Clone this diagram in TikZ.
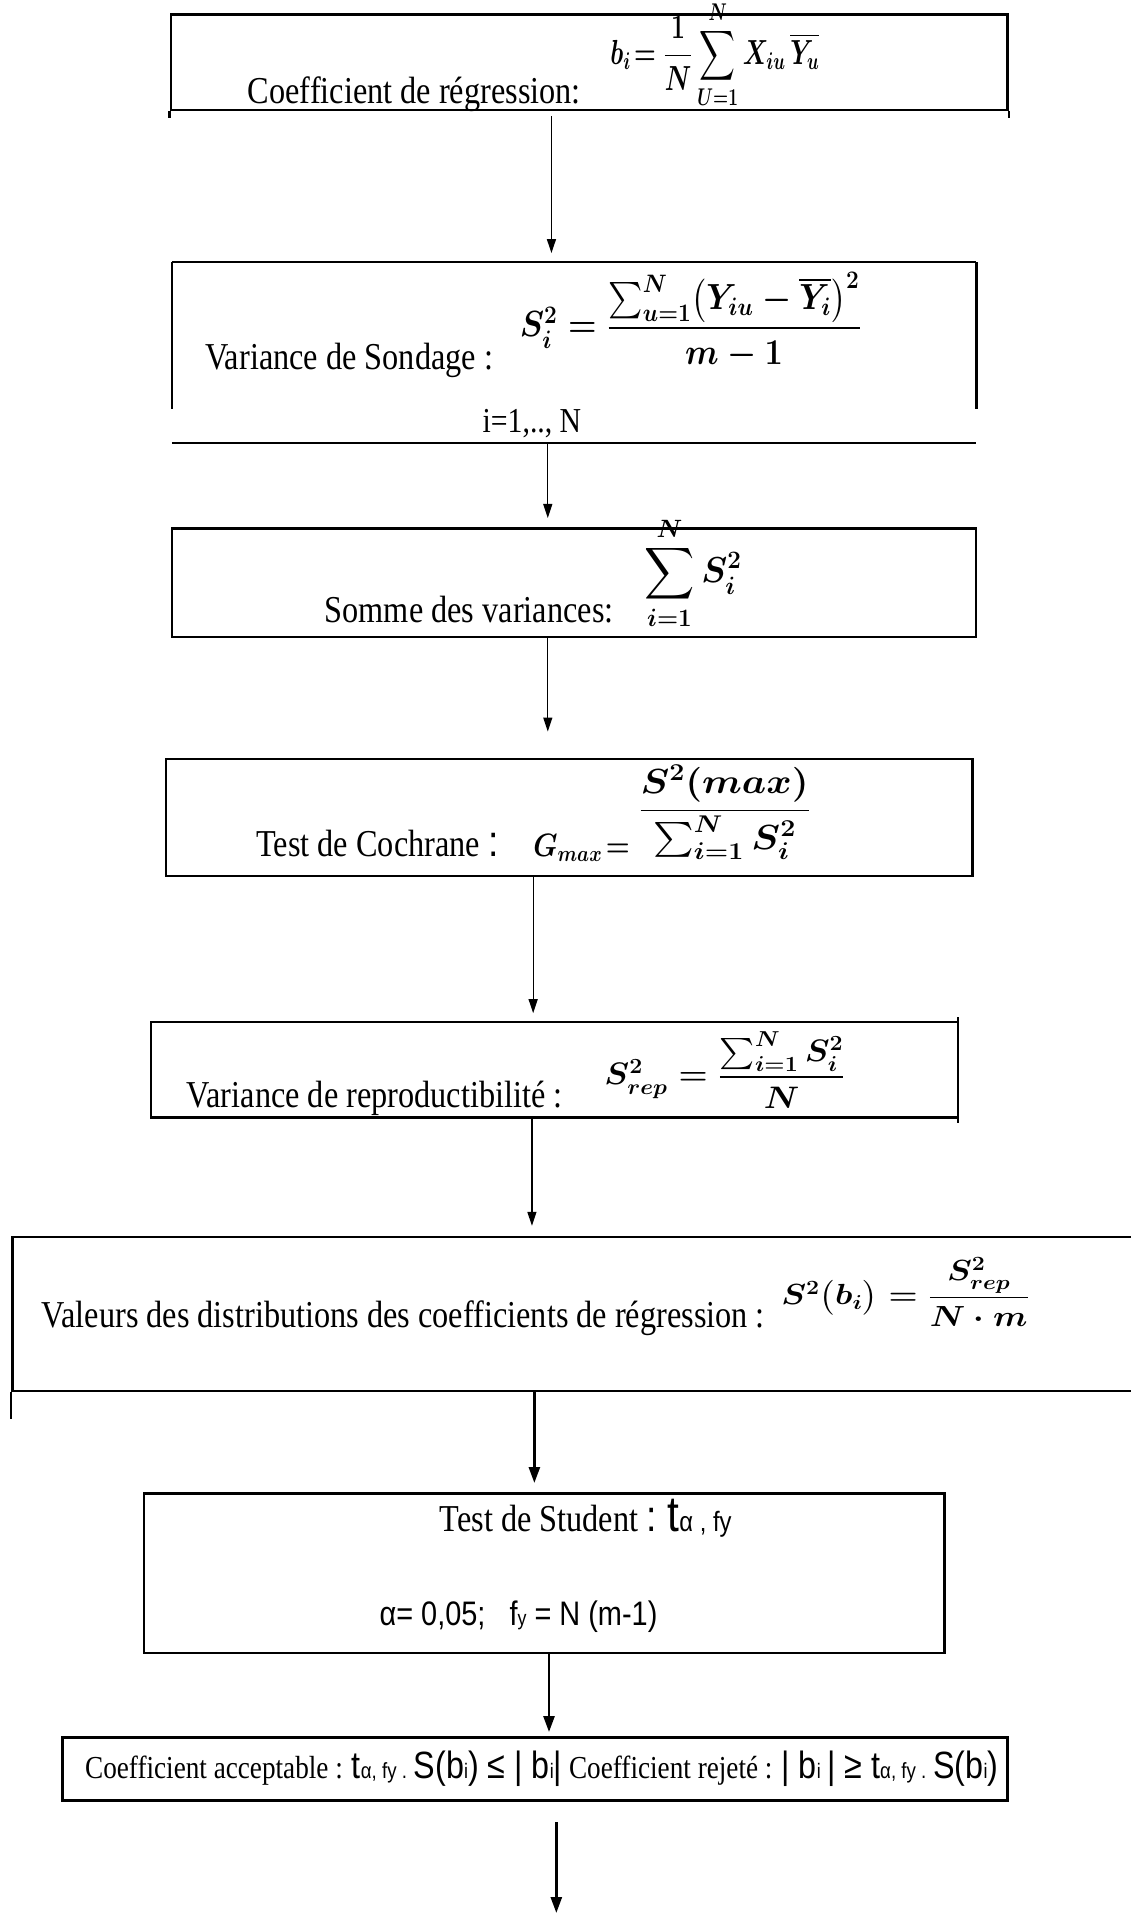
\documentclass[tikz,border=0pt]{standalone}
\usepackage{fontspec}
\usepackage{amsmath}
\usepackage{graphicx}
\setmainfont{Liberation Serif}
\newfontfamily\tnr[FakeStretch=0.85]{Liberation Serif}
\newfontfamily\ars[FakeStretch=0.85]{Liberation Sans}
\usetikzlibrary{arrows.meta}
\tikzset{
  box/.style={draw, line width=2.6pt, inner sep=0pt},
  frame/.style={inner sep=0pt},
  edge/.style={line width=2.6pt},
  thinedge/.style={line width=1.2pt},
  arr/.style={line width=1.3pt, -{Triangle[length=14pt,width=9pt]}},
  arrthick/.style={line width=2.6pt, -{Triangle[length=16pt,width=11pt]}},
  lbl/.style={inner sep=0pt, font=\tnr\fontsize{38}{44}\selectfont},
  frm/.style={inner sep=0pt, font=\fontsize{24}{28}\selectfont\boldmath},
}
\begin{document}
\begin{tikzpicture}[x=1.2201pt,y=-1.2201pt]
\useasboundingbox (0,0) rectangle (927,1568);
% boxes
\node[box, minimum width=686*1.2201pt, minimum height=78*1.2201pt] (B1) at (483,51) {};
\draw[edge] (B1.south west) -- ++(0,6);
\draw[edge] (B1.south east) -- ++(0,6);
\node[frame, minimum width=659*1.2201pt, minimum height=148*1.2201pt] (B2) at (470.5,289) {};
\draw[edge] (B2.north west) -- (B2.north east);
\draw[edge] (B2.north west) -- ++(0,120);
\draw[edge] (B2.north east) -- ++(0,120);
\draw[edge] (B2.south west) -- (B2.south east);
\node[box, minimum width=659*1.2201pt, minimum height=89*1.2201pt] (B3) at (470.5,477.5) {};
\node[box, minimum width=661*1.2201pt, minimum height=96*1.2201pt] (B4) at (466.5,670) {};
\node[frame, minimum width=661*1.2201pt, minimum height=78*1.2201pt] (B5) at (454.5,877) {};
\draw[edge] (B5.north east) -- (B5.north west) -- (B5.south west) -- (B5.south east);
\draw[thinedge] ([yshift=5pt]B5.north east) -- ([yshift=-5pt]B5.south east);
\node[box, minimum width=925*1.2201pt, minimum height=126*1.2201pt] (B6) at (472.5,1077) {};
\draw[edge] (B6.south west) -- ++(0,22);
\node[box, minimum width=656*1.2201pt, minimum height=131*1.2201pt] (B7) at (446,1289.5) {};
\node[box, minimum width=775*1.2201pt, minimum height=52*1.2201pt] (B8) at (438.5,1450) {};

% texts
\node[lbl, anchor=base west] (T1) at (203,85) {Coefficient de régression:};
\node[frm] (F1) at (586,45) {\scalebox{1.0}[1.4]{$\displaystyle \boldsymbol{b_i}\!=\frac{\boldsymbol{1}}{\boldsymbol{N}}\sum_{\boldsymbol{U=1}}^{\boldsymbol{N}} \boldsymbol{X_{iu}}\,\overline{\boldsymbol{Y_u}}$}};

\node[lbl, anchor=base west] (T2) at (168,303) {Variance de Sondage :};
\node[frm] (F2) at (566,263) {\scalebox{1.31}[1.46]{$S_i^2=\dfrac{\sum_{u=1}^{N}\bigl(Y_{iu}-\overline{Y_i}\bigr)^2}{m-1}$}};
\node[lbl, font=\tnr\fontsize{35}{40}\selectfont] (T2b) at (436,347) {i=1,.., N};

\node[lbl, anchor=base west] (T3) at (266,510) {Somme des variances:};
\node[frm] (F3) at (568,470) {\scalebox{1.4}[1.45]{$\displaystyle\sum_{i=1}^{N} S_i^2$}};

\node[lbl, anchor=base west] (T4) at (210,702) {Test de Cochrane {\ars\fontsize{44}{48}\selectfont :}};
\node[frm, anchor=base west] (F4a) at (437,702) {\scalebox{1.1}[1.3]{$G_{max}\!=$}};
\node[frm] (F4b) at (594,666) {\scalebox{1.55}[1.4]{$\genfrac{}{}{}{0}{S^2(max)}{\sum_{i=1}^{N}S_i^2}$}};

\node[lbl, anchor=base west] (T5) at (153,908) {Variance de reproductibilité :};
\node[frm] (F5) at (594,877) {\scalebox{1.34}[1.25]{$S_{rep}^2=\dfrac{\sum_{i=1}^{N}S_i^2}{N}$}};

\node[lbl, anchor=base west] (T6) at (34,1088) {Valeurs des distributions des coefficients de régression :};
\node[frm] (F6) at (742,1059) {\scalebox{1.34}[1.17]{$S^2\bigl(b_i\bigr)=\dfrac{S_{rep}^2}{N\cdot m}$}};

\node[lbl, anchor=base] (T7) at (480,1255) {Test de Student {\ars\fontsize{44}{48}\selectfont :} {\ars\fontsize{50}{54}\selectfont t}{\ars\fontsize{28}{32}\selectfont α , fy}};
\node[lbl, anchor=base, font=\ars\fontsize{34}{40}\selectfont] (T7b) at (425,1332) {α= 0,05;\ \ \ f{\fontsize{21}{24}\selectfont y} = N (m-1)};

\node[lbl, font=\tnr\fontsize{32}{36}\selectfont] (T8) at (444,1450) {Coefficient acceptable : {\ars\fontsize{38}{42}\selectfont t}{\ars\fontsize{22}{24}\selectfont α, fy . }{\ars\fontsize{38}{42}\selectfont S(b}{\ars\fontsize{21}{24}\selectfont i}{\ars\fontsize{38}{42}\selectfont ) ≤ | b}{\ars\fontsize{21}{24}\selectfont i}{\ars\fontsize{38}{42}\selectfont |} Coefficient rejeté : {\ars\fontsize{38}{42}\selectfont | b}{\ars\fontsize{21}{24}\selectfont i}{\ars\fontsize{38}{42}\selectfont \,| ≥ t}{\ars\fontsize{22}{24}\selectfont α, fy . }{\ars\fontsize{38}{42}\selectfont S(b}{\ars\fontsize{21}{24}\selectfont i}{\ars\fontsize{38}{42}\selectfont )}};

% connectors
\coordinate (x1) at (452,0);
\coordinate (x2) at (449,0);
\coordinate (x3) at (449,0);
\coordinate (x4) at (437,0);
\coordinate (x5) at (436,0);
\coordinate (x6) at (438,0);
\coordinate (x7) at (450,0);
\coordinate (fin) at (456,1568);
\draw[arr, shorten <=5pt, shorten >=9pt] (B1.south -| x1) -- (B2.north -| x1);
\draw[arr, shorten >=9pt] (B2.south -| x2) -- (B3.north -| x2);
\draw[arr, shorten >=26pt] (B3.south -| x3) -- (B4.north -| x3);
\draw[arr, shorten >=9pt] (B4.south -| x4) -- (B5.north -| x4);
\draw[arr, shorten >=10pt] (B5.south -| x5) -- (B6.north -| x5);
\draw[arrthick, shorten >=9pt] (B6.south -| x6) -- (B7.north -| x6);
\draw[arrthick, shorten >=4pt] (B7.south -| x7) -- (B8.north -| x7);
\draw[arrthick, shorten <=20pt] (B8.south -| fin) -- (fin);
\end{tikzpicture}
\end{document}
